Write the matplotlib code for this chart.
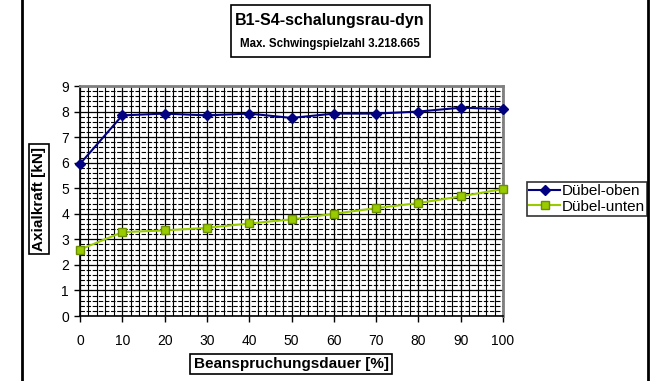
import matplotlib
matplotlib.use("Agg")
import matplotlib.pyplot as plt
from matplotlib.ticker import MultipleLocator
from matplotlib.lines import Line2D
from matplotlib.patches import Rectangle

plt.rcParams['font.family'] = ['Liberation Sans', 'DejaVu Sans']

x_vals = [0, 10, 20, 30, 40, 50, 60, 70, 80, 90, 100]
oben = [5.95, 7.85, 7.92, 7.85, 7.92, 7.75, 7.92, 7.92, 8.0, 8.15, 8.1]
unten = [2.6, 3.28, 3.35, 3.45, 3.62, 3.78, 4.0, 4.22, 4.42, 4.68, 4.97]
series_names = ["Dübel-oben", "Dübel-unten"]
title = "B1-S4-schalungsrau-dyn"
subtitle = "Max. Schwingspielzahl 3.218.665"
xlabel = "Beanspruchungsdauer [%]"
ylabel = "Axialkraft [kN]"

W, H = 655, 381
fig = plt.figure(figsize=(W/100, H/100), dpi=100)
ax = fig.add_axes([80/W, 1-316/H, (503-80)/W, (316-86)/H])

ax.set_xlim(0, 100)
ax.set_ylim(0, 9)
ax.xaxis.set_major_locator(MultipleLocator(10))
ax.xaxis.set_minor_locator(MultipleLocator(2))
ax.yaxis.set_major_locator(MultipleLocator(1))
ax.yaxis.set_minor_locator(MultipleLocator(0.2))
ax.grid(which='major', axis='both', color='black', lw=0.9)
ax.grid(which='minor', axis='x', color='black', lw=0.8)
ax.grid(which='minor', axis='y', color='black', lw=0.8, ls=(0, (4, 1.5)))
ax.set_axisbelow(True)
ax.tick_params(which='minor', length=0)
ax.tick_params(which='major', direction='out', length=4, width=1, labelsize=10, colors='black')
ax.tick_params(axis='x', pad=9)
ax.tick_params(axis='y', pad=4)

for s in ['left', 'bottom']:
    ax.spines[s].set_color('black'); ax.spines[s].set_linewidth(1.2)
for s in ['top', 'right']:
    ax.spines[s].set_color('#808080'); ax.spines[s].set_linewidth(2)

ax.plot(x_vals, oben, color='#000080', lw=1.5, marker='D', ms=5.5, mfc='#000080', mec='#000080',
        label=series_names[0], clip_on=False, zorder=5)
ax.plot(x_vals, unten, color='#99CC00', lw=1.5, marker='s', ms=5.5, mfc='#99CC00', mec='#6B8E00',
        label=series_names[1], clip_on=False, zorder=5)

# Title box
fig.text(330/W, 1-21/H, title, ha='center', va='center', fontsize=11.5, fontweight='bold')
fig.text(330/W, 1-44/H, subtitle, ha='center', va='center', fontsize=8.3, fontweight='bold')
fig.patches.append(Rectangle((231/W, 1-57/H), (430-231)/W, (57-5)/H, transform=fig.transFigure,
                             fill=False, ec='black', lw=1.2))

fig.text(291/W, 1-364/H, xlabel, ha='center', va='center', fontsize=11, fontweight='bold',
         bbox=dict(boxstyle='square,pad=0.2', fc='white', ec='black', lw=1.2))
fig.text(39/W, 1-199/H, ylabel, ha='center', va='center', rotation=90, fontsize=11, fontweight='bold',
         bbox=dict(boxstyle='square,pad=0.2', fc='white', ec='black', lw=1.2))

leg = fig.legend(loc='center left', bbox_to_anchor=(527/W, 1-199/H), fontsize=11, frameon=True,
                 fancybox=False, edgecolor='black', borderpad=0.15, handlelength=2.0,
                 handletextpad=0.1, labelspacing=0.1, borderaxespad=0)
leg.get_frame().set_linewidth(1.2)

# outer chart frame edges
fig.add_artist(Line2D([22/W, 22/W], [0, 1], transform=fig.transFigure, color='black', lw=2))
fig.add_artist(Line2D([648/W, 648/W], [0, 1], transform=fig.transFigure, color='black', lw=2))

fig.savefig('out.png', dpi=100)
